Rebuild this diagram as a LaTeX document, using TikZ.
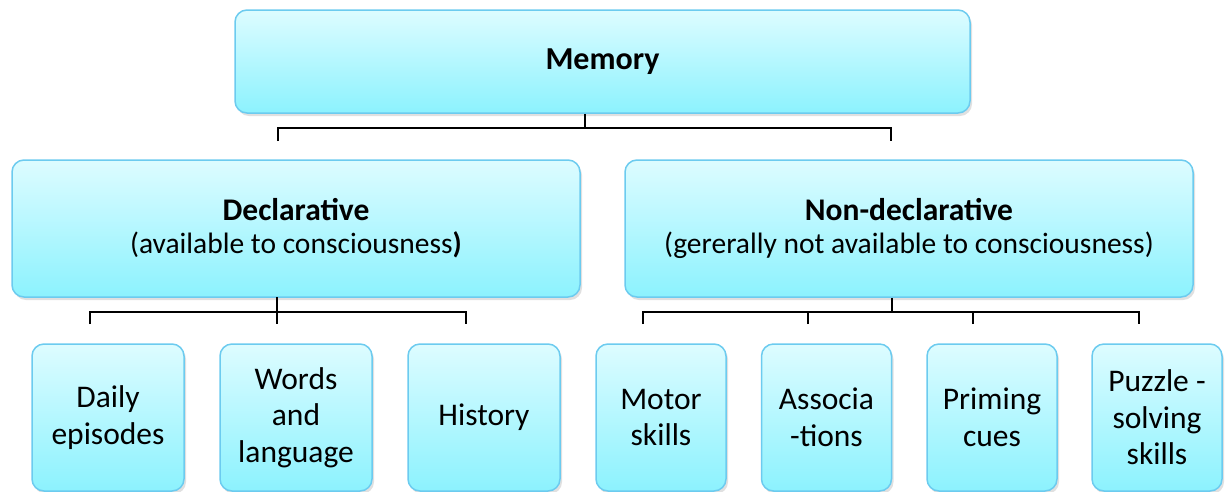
\documentclass[tikz,border=0pt]{standalone}
\usepackage{fontspec}
\setmainfont{Carlito}
\usetikzlibrary{shadows}
\definecolor{boxtop}{HTML}{DDFCFF}
\definecolor{boxbot}{HTML}{8CF2FE}
\definecolor{boxline}{HTML}{6CCBEF}
\tikzset{
  box/.style={draw=boxline, line width=1.5pt, rounded corners=12pt,
    top color=boxtop, bottom color=boxbot, align=center, inner sep=0pt,
    drop shadow={shadow xshift=2pt, shadow yshift=-3pt, opacity=0.2, fill=black!60}},
  big/.style={font=\fontsize{29.5}{33}\selectfont},
  small/.style={font=\fontsize{31.5}{36.5}\selectfont},
  conn/.style={draw=black, line width=2pt}
}
\begin{document}
\begin{tikzpicture}[x=1pt,y=-1pt]
\useasboundingbox (0,0) rectangle (1229,491);
% top
\node[box, minimum width=735pt, minimum height=103pt, font=\fontsize{32}{38}\selectfont\bfseries] (mem) at (602.5,61.5) {Memory};
% second level
\node[box, big, minimum width=568pt, minimum height=137pt] (decl) at (296,228.5)
  {{\fontsize{31.5}{33}\selectfont\textbf{Declarative}}\\(available to consciousness\textbf{)}};
\node[box, big, minimum width=568pt, minimum height=137pt] (nondecl) at (909,228.5)
  {{\fontsize{31.5}{33}\selectfont\textbf{Non-declarative}}\\(gererally not available to consciousness)};
% third level
\node[box, small, minimum width=152pt, minimum height=147pt] (daily) at (108,417.5) {Daily\\episodes};
\node[box, small, minimum width=152pt, minimum height=147pt] (words) at (296,417.5) {Words\\and\\language};
\node[box, small, minimum width=152pt, minimum height=147pt] (hist) at (484,417.5) {History};
\node[box, small, minimum width=130pt, minimum height=147pt] (motor) at (661,417.5) {Motor\\skills};
\node[box, small, minimum width=130pt, minimum height=147pt] (assoc) at (826.5,417.5) {Associa\\-tions};
\node[box, small, minimum width=130pt, minimum height=147pt] (prim) at (992,417.5) {Priming\\cues};
\node[box, small, minimum width=130pt, minimum height=147pt] (puzz) at (1157,417.5) {Puzzle -\\solving\\skills};
% connector coordinates
\coordinate (mj) at (585,128);
\coordinate (ml) at (278,141);
\coordinate (mr) at (891,141);
\coordinate (dtop) at (277,297);
\coordinate (dbot) at (277,324);
\coordinate (dl) at (90,324);
\coordinate (dr) at (466,324);
\coordinate (dj) at (277,312);
\coordinate (nj) at (892,312);
\coordinate (n1) at (643,324);
\coordinate (n2) at (808,324);
\coordinate (n3) at (973,324);
\coordinate (n4) at (1139,324);
% connectors
\draw[conn] (mem.south -| mj) -- (mj);
\draw[conn, line width=1.5pt] (ml) |- (mj) -| (mr);
\draw[conn] (dtop) -- (dbot);
\draw[conn, line width=1.5pt] (dl) |- (dj) -| (dr);
\draw[conn] (nondecl.south -| nj) -- (nj);
\draw[conn, line width=1.5pt] (n1) |- (nj) -| (n4);
\draw[conn, line width=1.5pt] (n2) -- (n2 |- nj);
\draw[conn, line width=1.5pt] (n3) -- (n3 |- nj);
\end{tikzpicture}
\end{document}
